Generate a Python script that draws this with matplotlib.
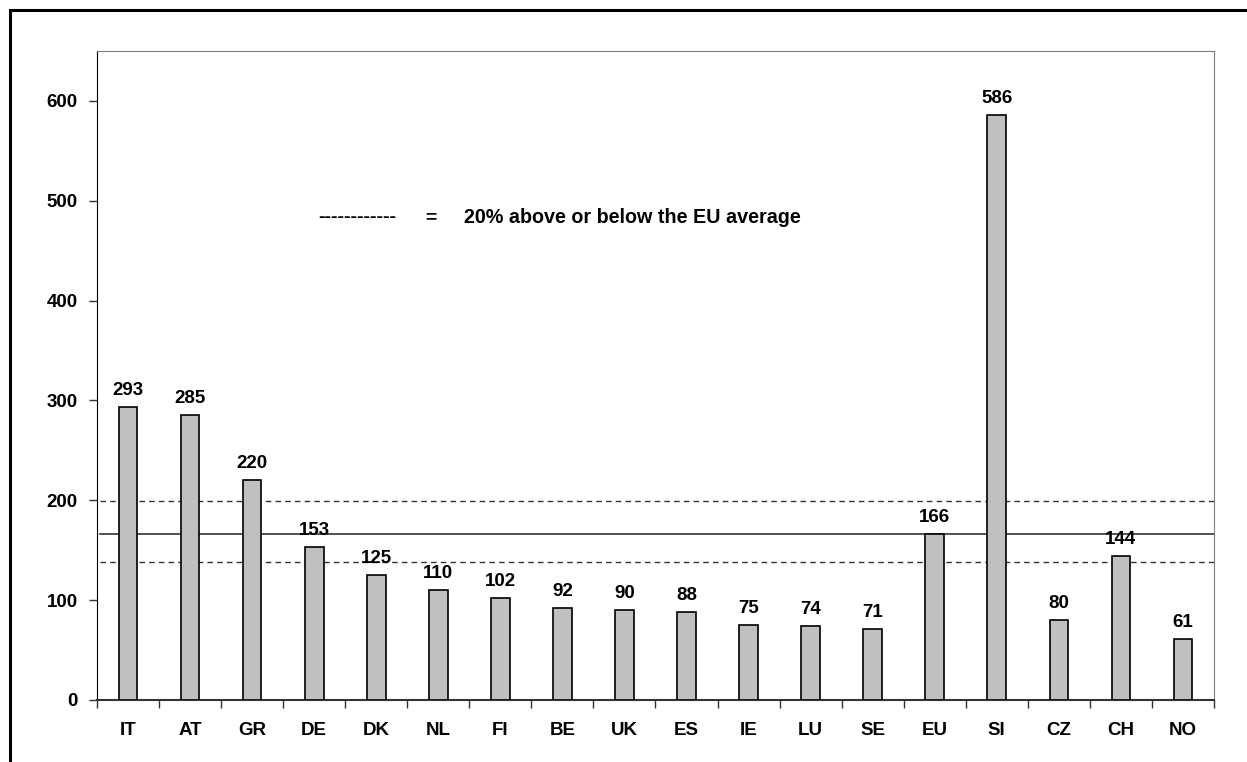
import matplotlib
matplotlib.use("Agg")
import matplotlib.pyplot as plt
from matplotlib.patches import Rectangle

plt.rcParams['font.family'] = ['Liberation Sans', 'DejaVu Sans']
plt.rcParams['font.weight'] = 'bold'

# Landen en waardes
landen = ["IT", "AT", "GR", "DE", "DK", "NL", "FI", "BE", "UK", "ES",
          "IE", "LU", "SE", "EU", "SI", "CZ", "CH", "NO"]
waardes = [293, 285, 220, 153, 125, 110, 102, 92, 90, 88,
           75, 74, 71, 166, 586, 80, 144, 61]
eu_gem = 166
yticks = [0, 100, 200, 300, 400, 500, 600]

fs = 13.5

fig = plt.figure(figsize=(12.47, 7.62), dpi=100)
ax = fig.add_axes([0.0778, 0.0814, 0.8957, 0.8517])

x = list(range(len(landen)))
ax.bar(x, waardes, width=0.3, color="#c0c0c0", edgecolor="black", linewidth=1.2, zorder=3)

# Waardes boven de balken
for xi, w in zip(x, waardes):
    ax.annotate(str(w), (xi, w), xytext=(0, 6), textcoords="offset points",
                ha="center", va="bottom", fontsize=fs, fontweight="bold")

# EU gemiddelde en +/- 20%
ax.axhline(eu_gem, xmin=0.003, color="#333333", linewidth=1.2, zorder=2)
ax.axhline(eu_gem * 1.2, xmin=0.003, color="#333333", linewidth=1, linestyle=(0, (4, 3)), zorder=2)
ax.axhline(eu_gem / 1.2, xmin=0.003, color="#333333", linewidth=1, linestyle=(0, (4, 3)), zorder=2)

ax.text(3.06, 483, "------------", fontsize=14, fontweight="bold", va="center", ha="left")
ax.text(4.785, 483, "=", fontsize=14, fontweight="bold", va="center", ha="left")
ax.text(5.42, 483, "20% above or below the EU average", fontsize=14.2, fontweight="bold",
        va="center", ha="left")

ax.set_xlim(-0.5, len(landen) - 0.5)
ax.set_ylim(0, 650)
ax.set_yticks(yticks)
ax.set_yticklabels([str(t) for t in yticks], fontsize=fs, fontweight="bold")

# Streepjes tussen de categorieen, labels in het midden
ax.set_xticks([i - 0.5 for i in range(len(landen) + 1)])
ax.set_xticklabels([])
ax.set_xticks(x, minor=True)
ax.set_xticklabels(landen, minor=True, fontsize=fs, fontweight="bold")
ax.tick_params(axis="x", which="major", direction="out", length=6, width=1, color="#333333")
ax.tick_params(axis="x", which="minor", length=0, pad=15.5)
ax.tick_params(axis="y", direction="out", length=6, width=1, color="#333333", pad=8)

ax.spines["top"].set_color("#808080")
ax.spines["right"].set_color("#808080")
ax.spines["left"].set_color("black")
ax.spines["bottom"].set_color("#333333")
ax.spines["bottom"].set_linewidth(1.5)

# Kader om de figuur
kader = Rectangle((10 / 1247, -0.1), 1.2, 1 - 10 / 762 + 0.1, transform=fig.transFigure,
                  fill=False, edgecolor="black", linewidth=2.2)
fig.patches.append(kader)

fig.savefig("out.png", dpi=100)
